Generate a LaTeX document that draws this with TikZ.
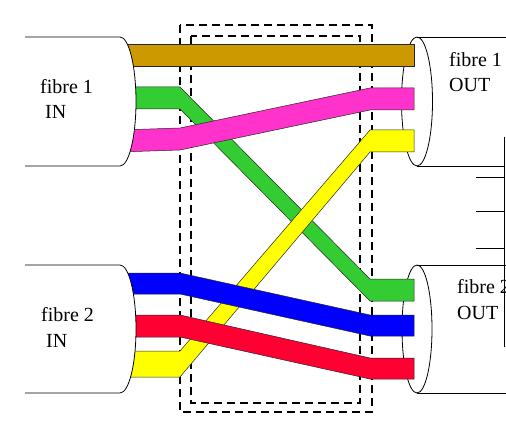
\documentclass[tikz,border=0pt]{standalone}
\usepackage{fontspec}
\setmainfont{Liberation Serif}
\usepackage{xcolor}
\usetikzlibrary{positioning}
\definecolor{goldband}{RGB}{204,153,0}
\definecolor{greenband}{RGB}{51,204,51}
\definecolor{pinkband}{RGB}{255,51,204}
\definecolor{yellowband}{RGB}{255,255,0}
\definecolor{blueband}{RGB}{0,0,255}
\definecolor{redband}{RGB}{255,0,51}

\begin{document}
\begin{tikzpicture}[x=1pt, y=-1pt,
  band/.style={draw=black!85, line width=0.5pt},
  cable/.style={draw=black, line width=0.8pt, fill=white},
  frame/.style={draw=black, line width=1.6pt, dash pattern=on 8pt off 5pt},
  tag/.style={anchor=base west, align=left, inner sep=0pt,
    font=\fontsize{20}{25.5}\selectfont}
]
\useasboundingbox (0,0) rectangle (506,422);
\clip (0,0) rectangle (506,422);

% Output fibres, drawn below the bands.
\draw[cable] (417,101.5) ellipse[x radius=15.5pt, y radius=64.5pt];
\draw[cable, fill=none] (417,37) -- (506,37);
\draw[cable, fill=none] (417,166) -- (504,166);
\draw[cable] (417,329) ellipse[x radius=15pt, y radius=64pt];
\draw[cable, fill=none] (417,265) -- (506,265);
\draw[cable, fill=none] (417,393) -- (506,393);

% Partial device at the right edge.
\draw[line width=0.8pt] (504,137) -- (504,347);
\draw[line width=0.8pt] (476,177) -- (504,177);
\draw[line width=0.8pt] (476,211) -- (504,211);
\draw[line width=0.8pt] (476,248) -- (504,248);

% Switch region.
\draw[frame] (180,25) rectangle (372,412);
\draw[frame] (191,36) rectangle (360,403);

% Fibre cores, crossing inside the switch.
\filldraw[band, fill=goldband] (120,44) -- (414,44) -- (414,66) -- (120,66) -- cycle;
\filldraw[band, fill=greenband] (120,87) -- (180,87) -- (370,279) -- (414,279)
  -- (414,301) -- (370,301) -- (180,109) -- (120,109) -- cycle;
\filldraw[band, fill=pinkband] (120,130) -- (180,128) -- (370,88) -- (414,88)
  -- (414,110) -- (370,110) -- (180,150) -- (120,152) -- cycle;
\filldraw[band, fill=yellowband] (120,351) -- (180,351) -- (370,130) -- (414,130)
  -- (414,152) -- (370,152) -- (180,377) -- (120,377) -- cycle;
\filldraw[band, fill=blueband] (120,273) -- (180,273) -- (370,315) -- (414,315)
  -- (414,336) -- (370,336) -- (180,294) -- (120,294) -- cycle;
\filldraw[band, fill=redband] (120,315) -- (180,315) -- (370,358) -- (414,358)
  -- (414,379) -- (370,379) -- (180,337) -- (120,337) -- cycle;

% Input fibres, drawn over the band ends.
\filldraw[cable] (25,37) -- (120,37)
  arc[start angle=90, end angle=-90, x radius=16pt, y radius=64.5pt] -- (25,166);
\filldraw[cable] (25,265) -- (120,265)
  arc[start angle=90, end angle=-90, x radius=16pt, y radius=64pt] -- (25,393);

\node[tag] (in1) at (40,119) {fibre 1\\\ IN};
\node[tag] (in2) at (41,347) {fibre 2\\\ IN};
\node[tag] (out1) at (449,92) {fibre 1\\OUT};
\node[tag] (out2) at (457,319) {fibre 2\\OUT};

\end{tikzpicture}
\end{document}
